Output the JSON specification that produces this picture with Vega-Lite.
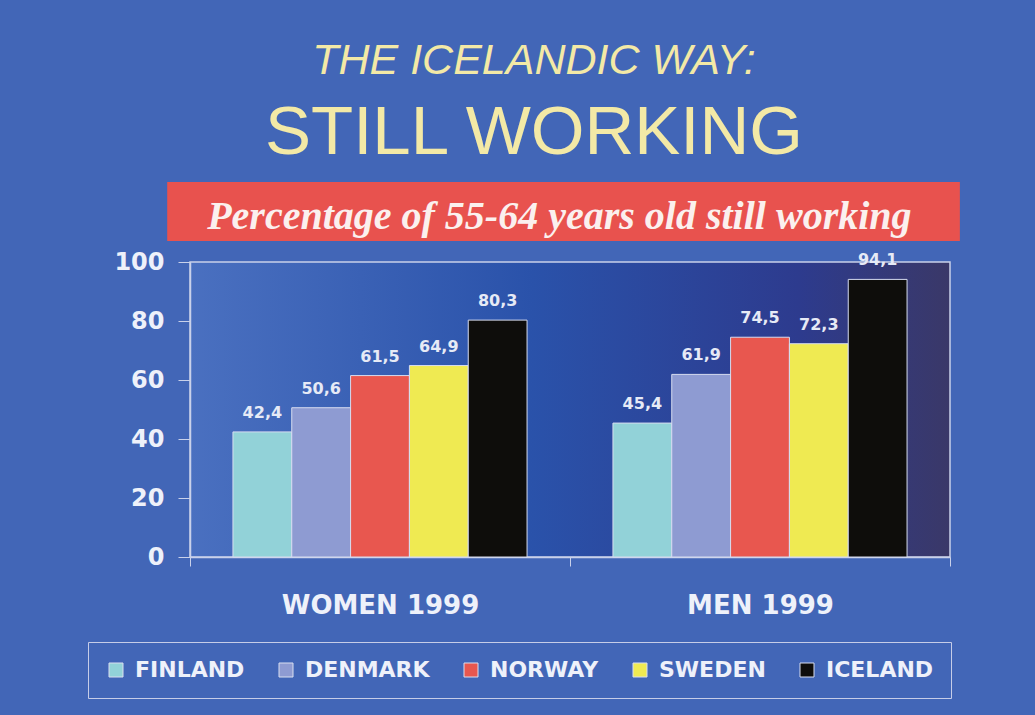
{
  "$schema": "https://vega.github.io/schema/vega-lite/v6.json",
  "width": 760,
  "height": 295,
  "autosize": {"type": "none"},
  "padding": {"left": 190, "top": 262, "right": 85, "bottom": 158},
  "background": "#4266b7",
  "title": {
    "text": "THE ICELANDIC WAY:",
    "subtitle": "STILL WORKING",
    "font": "Liberation Sans",
    "fontSize": 43,
    "fontStyle": "italic",
    "fontWeight": "normal",
    "color": "#f3e9a6",
    "subtitleFont": "Liberation Sans",
    "subtitleFontSize": 69,
    "subtitleFontStyle": "normal",
    "subtitleFontWeight": "normal",
    "subtitleColor": "#f3e9a6",
    "subtitlePadding": 16,
    "anchor": "middle",
    "dx": -36,
    "offset": 14
  },
  "config": {
    "locale": {"number": {"decimal": ",", "thousands": ".", "grouping": [3], "currency": ["", ""]}},
    "view": {
      "stroke": "#c9d1ea",
      "strokeWidth": 1.5,
      "fill": {
        "gradient": "linear", "x1": 0, "y1": 0, "x2": 1, "y2": 0,
        "stops": [
          {"offset": 0, "color": "#4a70c0"},
          {"offset": 0.45, "color": "#2a52aa"},
          {"offset": 0.8, "color": "#2d3b8e"},
          {"offset": 1, "color": "#3a3868"}
        ]
      }
    }
  },
  "datasets": {
    "banner": [{"text": "Percentage of 55-64 years old still working"}],
    "rates": [
      {"group": "WOMEN 1999", "country": "FINLAND", "value": 42.4},
      {"group": "WOMEN 1999", "country": "DENMARK", "value": 50.6},
      {"group": "WOMEN 1999", "country": "NORWAY", "value": 61.5},
      {"group": "WOMEN 1999", "country": "SWEDEN", "value": 64.9},
      {"group": "WOMEN 1999", "country": "ICELAND", "value": 80.3},
      {"group": "MEN 1999", "country": "FINLAND", "value": 45.4},
      {"group": "MEN 1999", "country": "DENMARK", "value": 61.9},
      {"group": "MEN 1999", "country": "NORWAY", "value": 74.5},
      {"group": "MEN 1999", "country": "SWEDEN", "value": 72.3},
      {"group": "MEN 1999", "country": "ICELAND", "value": 94.1}
    ]
  },
  "layer": [
    {
      "data": {"name": "banner"},
      "mark": {"type": "rect", "color": "#e8524e", "clip": false},
      "encoding": {
        "x": {"datum": -3, "type": "quantitative", "scale": {"domain": [0, 100], "nice": false, "zero": false}, "axis": null},
        "x2": {"datum": 101.3},
        "y": {"datum": 107.1, "type": "quantitative", "scale": {"domain": [0, 100], "nice": false}},
        "y2": {"datum": 127.1}
      }
    },
    {
      "data": {"name": "banner"},
      "mark": {"type": "text", "font": "Liberation Serif", "fontStyle": "italic", "fontWeight": "bold", "fontSize": 40, "color": "#fbf0ee", "align": "center", "baseline": "alphabetic", "clip": false},
      "encoding": {
        "x": {"datum": 48.6, "type": "quantitative", "scale": {"domain": [0, 100], "nice": false, "zero": false}, "axis": null},
        "y": {"datum": 111.3, "type": "quantitative"},
        "text": {"field": "text"}
      }
    },
    {
      "data": {"name": "rates"},
      "encoding": {
        "x": {
          "field": "group", "type": "nominal", "sort": ["WOMEN 1999", "MEN 1999"],
          "scale": {"paddingInner": 0, "paddingOuter": 0},
          "axis": {
            "title": null, "labelAngle": 0, "tickBand": "extent", "tickSize": 9, "labelLimit": 0,
            "tickColor": "#c9d1ea", "domainColor": "#c9d1ea", "domainWidth": 1.5,
            "labelFont": "DejaVu Sans", "labelFontWeight": "bold", "labelFontSize": 26,
            "labelColor": "#eef1fa", "labelPadding": 26
          }
        },
        "xOffset": {
          "field": "country", "type": "nominal",
          "sort": ["FINLAND", "DENMARK", "NORWAY", "SWEDEN", "ICELAND"],
          "scale": {"paddingInner": 0, "paddingOuter": 0.73}
        },
        "y": {
          "field": "value", "type": "quantitative",
          "scale": {"domain": [0, 100], "nice": false},
          "axis": {
            "title": null, "values": [0, 20, 40, 60, 80, 100], "grid": false,
            "tickSize": 12, "tickColor": "#c9d1ea", "domainColor": "#c9d1ea", "domainWidth": 1.5,
            "labelFont": "DejaVu Sans", "labelFontWeight": "bold", "labelFontSize": 24,
            "labelColor": "#eef1fa", "labelPadding": 14
          }
        }
      },
      "layer": [
        {
          "mark": {"type": "bar", "stroke": "#d6dcf0", "strokeWidth": 1},
          "encoding": {
            "color": {
              "field": "country", "type": "nominal",
              "sort": ["FINLAND", "DENMARK", "NORWAY", "SWEDEN", "ICELAND"],
              "scale": {
                "domain": ["FINLAND", "DENMARK", "NORWAY", "SWEDEN", "ICELAND"],
                "range": ["#92d2d8", "#8e9bd2", "#e8574f", "#efea52", "#0e0d0b"]
              },
              "legend": {
                "title": null, "orient": "none", "legendX": -102, "legendY": 380,
                "direction": "horizontal", "columns": 5, "columnPadding": 30,
                "padding": 17, "strokeColor": "#c6cde8",
                "symbolType": "square", "symbolSize": 196, "symbolStrokeColor": "#d8def0", "symbolStrokeWidth": 1,
                "labelFont": "DejaVu Sans", "labelFontWeight": "bold", "labelFontSize": 22,
                "labelColor": "#eef1fa", "labelOffset": 8
              }
            }
          }
        },
        {
          "mark": {"type": "text", "font": "DejaVu Sans", "fontWeight": "bold", "fontSize": 16, "color": "#e6eaf6", "baseline": "alphabetic", "dy": -14},
          "encoding": {
            "text": {"field": "value", "type": "quantitative", "format": ".1f"}
          }
        }
      ]
    }
  ],
  "resolve": {"scale": {"x": "independent"}}
}
